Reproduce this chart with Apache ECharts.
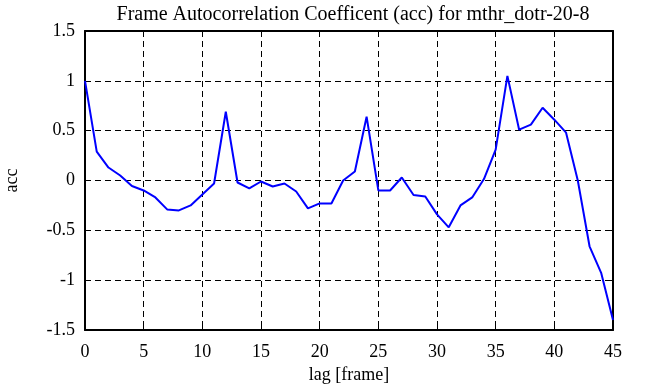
<!DOCTYPE html>
<html><head><meta charset="utf-8">
<script src="https://cdn.jsdelivr.net/npm/echarts@6/dist/echarts.min.js"></script>
<style>html,body{margin:0;padding:0;background:#fff}#c{width:646px;height:387px}</style>
</head><body><div id="c"></div>
<script>
var lags = [0,1,2,3,4,5,6,7,8,9,10,11,12,13,14,15,16,17,18,19,20,21,22,23,24,25,26,27,28,29,30,31,32,33,34,35,36,37,38,39,40,41,42,43,44,45];
var acc = [1.0,0.29,0.13,0.05,-0.055,-0.10,-0.17,-0.29,-0.30,-0.25,-0.14,-0.03,0.69,-0.02,-0.08,-0.01,-0.06,-0.03,-0.11,-0.28,-0.23,-0.23,0.0,0.09,0.64,-0.10,-0.10,0.03,-0.145,-0.16,-0.34,-0.47,-0.25,-0.17,0.015,0.31,1.05,0.51,0.56,0.73,0.61,0.48,0.0,-0.66,-0.93,-1.40];
var titleText = 'Frame Autocorrelation Coefficent (acc) for mthr_dotr-20-8';
var xName = 'lag [frame]';
var yName = 'acc';

var font = 'Liberation Serif, Times New Roman, serif';
var chart = echarts.init(document.getElementById('c'));
var pts = lags.map(function(l,i){return [l, acc[i]];});
var hidden = {show:false};
chart.setOption({
  animation:false,
  title:{text:titleText,left:348,textAlign:'center',top:0,textStyle:{fontFamily:font,fontWeight:'normal',fontSize:20,color:'#000'}},
  grid:{left:85,right:33,top:31,bottom:57,outerBoundsMode:'none',containLabel:false},
  xAxis:[{
    type:'value',min:0,max:45,interval:5,position:'bottom',
    name:xName,nameLocation:'middle',nameGap:36,
    nameTextStyle:{fontFamily:font,fontSize:18,color:'#000'},
    axisLine:{onZero:false,lineStyle:{color:'#000',width:2}},
    axisTick:{inside:true,length:5,lineStyle:{color:'#000',width:1}},
    axisLabel:{fontFamily:font,fontSize:18,color:'#000',margin:13},
    splitLine:{show:true,lineStyle:{color:'#000',type:[6,4],width:1}}
  },{
    type:'value',min:0,max:45,interval:5,position:'top',
    axisLine:{onZero:false,lineStyle:{color:'#000',width:2}},
    axisTick:{inside:true,length:5,lineStyle:{color:'#000',width:1}},
    axisLabel:hidden,splitLine:hidden
  }],
  yAxis:[{
    type:'value',min:-1.5,max:1.5,interval:0.5,position:'left',
    name:yName,nameLocation:'middle',nameGap:64,
    nameTextStyle:{fontFamily:font,fontSize:18,color:'#000'},
    axisLine:{show:true,onZero:false,lineStyle:{color:'#000',width:2}},
    axisTick:{show:true,inside:true,length:5,lineStyle:{color:'#000',width:1}},
    axisLabel:{fontFamily:font,fontSize:18,color:'#000',margin:10,padding:[4,0,0,0]},
    splitLine:{show:true,lineStyle:{color:'#000',type:[6,4],width:1}}
  },{
    type:'value',min:-1.5,max:1.5,interval:0.5,position:'right',
    axisLine:{show:true,onZero:false,lineStyle:{color:'#000',width:2}},
    axisTick:{show:true,inside:true,length:5,lineStyle:{color:'#000',width:1}},
    axisLabel:hidden,splitLine:hidden
  }],
  series:[{
    type:'line',data:pts,xAxisIndex:0,yAxisIndex:0,
    symbol:'none',lineStyle:{color:'#0000ff',width:2},itemStyle:{color:'#0000ff'}
  }]
});
</script></body></html>
